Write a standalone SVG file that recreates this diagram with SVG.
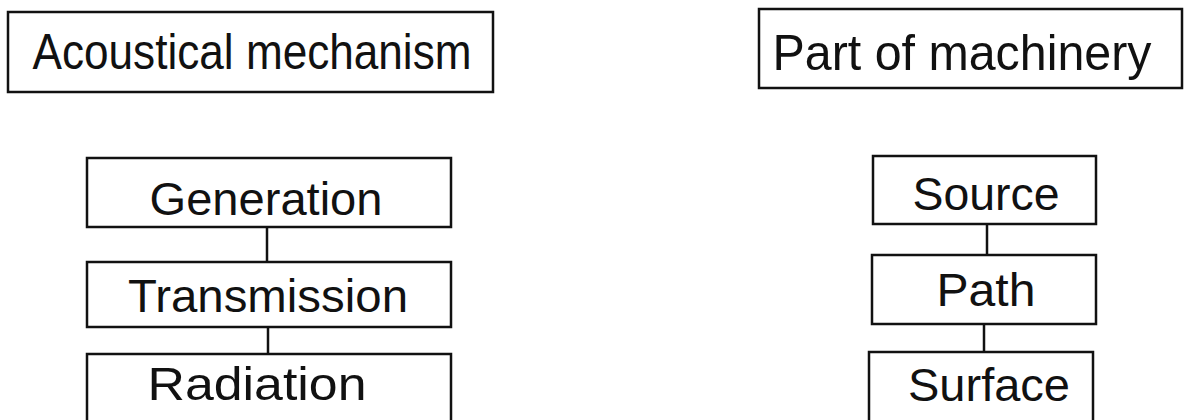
<svg xmlns="http://www.w3.org/2000/svg" width="1203" height="420" viewBox="0 0 1203 420">
<style>
.box{fill:#fff;stroke:#111;stroke-width:2.5}
.t{font-family:"Liberation Sans",Arial,sans-serif;fill:#111;text-anchor:middle}
.big{font-size:50px}
.mid{font-size:47px}
.con{stroke:#111;stroke-width:2.5;fill:none}
</style>
<rect width="1203" height="420" fill="#fff"/>
<g id="acoustical-mechanism">
<rect class="box" x="8" y="12" width="485" height="80"/>
<text class="t big" x="252" y="69" textLength="439" lengthAdjust="spacingAndGlyphs">Acoustical mechanism</text>
</g>
<g id="part-of-machinery">
<rect class="box" x="759" y="9" width="423" height="79"/>
<text class="t big" x="962" y="70" textLength="379" lengthAdjust="spacingAndGlyphs">Part of machinery</text>
</g>
<g id="connectors">
<line class="con" x1="267" y1="227" x2="267" y2="262"/>
<line class="con" x1="268" y1="327" x2="268" y2="354"/>
<line class="con" x1="987" y1="224" x2="987" y2="255"/>
<line class="con" x1="984" y1="324" x2="984" y2="352"/>
</g>
<g id="generation">
<rect class="box" x="87" y="158" width="364" height="69"/>
<text class="t mid" x="266" y="215" textLength="233" lengthAdjust="spacingAndGlyphs">Generation</text>
</g>
<g id="transmission">
<rect class="box" x="87" y="262" width="364" height="65"/>
<text class="t mid" x="268" y="312" textLength="280" lengthAdjust="spacingAndGlyphs">Transmission</text>
</g>
<g id="radiation">
<rect class="box" x="87" y="354" width="364" height="80"/>
<text class="t mid" x="257" y="400" textLength="219" lengthAdjust="spacingAndGlyphs">Radiation</text>
</g>
<g id="source">
<rect class="box" x="873" y="156" width="223" height="68"/>
<text class="t mid" x="986" y="210" textLength="147" lengthAdjust="spacingAndGlyphs">Source</text>
</g>
<g id="path">
<rect class="box" x="872" y="255" width="224" height="69"/>
<text class="t mid" x="986" y="306" textLength="99" lengthAdjust="spacingAndGlyphs">Path</text>
</g>
<g id="surface">
<rect class="box" x="869" y="352" width="224" height="80"/>
<text class="t mid" x="989" y="401" textLength="162" lengthAdjust="spacingAndGlyphs">Surface</text>
</g>
</svg>
